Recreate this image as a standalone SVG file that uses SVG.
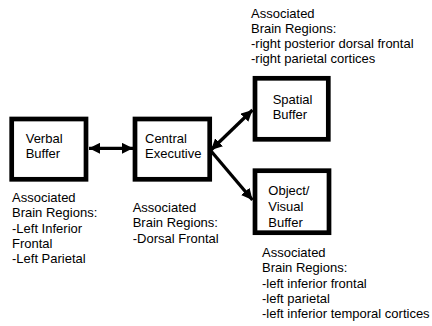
<svg xmlns="http://www.w3.org/2000/svg" width="432" height="326" viewBox="0 0 432 326">
<style>
.box{fill:#fff;stroke:#000;stroke-width:4.7}
.t{font-family:"Liberation Sans",Arial,sans-serif;font-size:13px;fill:#000}
.c{stroke:#000;stroke-width:3.3;fill:none}
</style>
<defs>
<marker id="ah" viewBox="0 0 10 10" refX="10" refY="5" markerWidth="3.4" markerHeight="3.4" orient="auto-start-reverse" markerUnits="strokeWidth">
<path d="M0,0 L10,5 L0,10 z" fill="#000"/>
</marker>
</defs>
<rect width="432" height="326" fill="#fff"/>
<g id="connectors">
<line class="c" x1="89" y1="148.3" x2="133" y2="148.3" marker-start="url(#ah)" marker-end="url(#ah)"/>
<line class="c" x1="211" y1="150" x2="252.5" y2="110" marker-start="url(#ah)" marker-end="url(#ah)"/>
<line class="c" x1="211" y1="151" x2="252.5" y2="200" marker-end="url(#ah)"/>
</g>
<g id="verbal">
<rect class="box" x="11.7" y="119" width="74.3" height="60.3"/>
<text class="t" x="25.7" y="142.5">Verbal</text>
<text class="t" x="25.7" y="158.3">Buffer</text>
<text class="t" x="12" y="202">Associated</text>
<text class="t" x="12" y="217.3">Brain Regions:</text>
<text class="t" x="12" y="232.6">-Left Inferior</text>
<text class="t" x="12" y="248">Frontal</text>
<text class="t" x="12" y="263.3">-Left Parietal</text>
</g>
<g id="central">
<rect class="box" x="135" y="119" width="74.7" height="60.3"/>
<text class="t" x="145" y="142.7">Central</text>
<text class="t" x="145" y="158.3">Executive</text>
<text class="t" x="132.7" y="212">Associated</text>
<text class="t" x="132.7" y="227.3">Brain Regions:</text>
<text class="t" x="132.7" y="242.6">-Dorsal Frontal</text>
</g>
<g id="spatial">
<rect class="box" x="255" y="78.3" width="73.3" height="61"/>
<text class="t" x="272.7" y="104">Spatial</text>
<text class="t" x="272.7" y="119">Buffer</text>
<text class="t" x="251" y="18">Associated</text>
<text class="t" x="251" y="33">Brain Regions:</text>
<text class="t" x="251" y="48">-right posterior dorsal frontal</text>
<text class="t" x="251" y="63">-right parietal cortices</text>
</g>
<g id="object">
<rect class="box" x="255" y="170.7" width="74" height="62"/>
<text class="t" x="268.3" y="195">Object/</text>
<text class="t" x="268.3" y="211">Visual</text>
<text class="t" x="268.3" y="226.7">Buffer</text>
<text class="t" x="262" y="257">Associated</text>
<text class="t" x="262" y="272.3">Brain Regions:</text>
<text class="t" x="262" y="287.6">-left inferior frontal</text>
<text class="t" x="262" y="303">-left parietal</text>
<text class="t" x="262" y="318.3">-left inferior temporal cortices</text>
</g>
</svg>
